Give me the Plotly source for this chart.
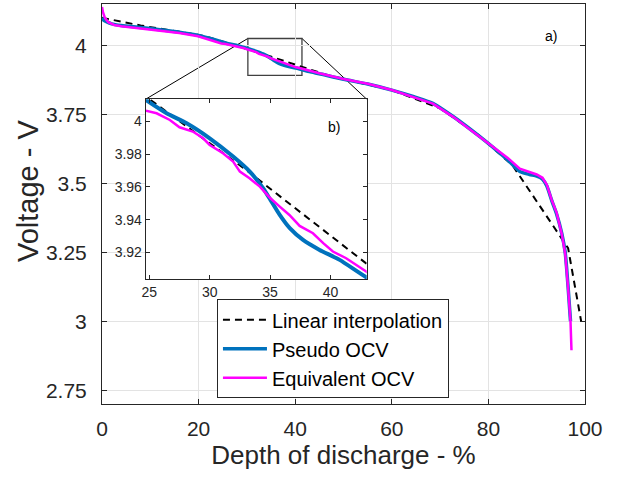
import plotly.graph_objects as go

# ---------------- data ----------------
lin_dod = [0, 8, 20, 22, 33, 47, 60, 70, 78, 85, 96.5, 99.2]
lin_v = [4.100, 4.072, 4.038, 4.030, 3.9705, 3.890, 3.838, 3.772, 3.674, 3.565, 3.265, 3.000]

pseudo_dod = [0, 0.3, 1, 2, 4, 8, 12, 16, 20, 22, 24.7, 26.43, 28.09, 30.0, 31.94, 33.32,
              34.42, 35.03, 35.8, 36.63, 37.73, 39.1, 40.76, 42.96, 45, 50, 55, 60, 64.4,
              68.5, 72.7, 78.3, 82, 84, 86.5, 88.5, 90.0, 91.2, 92.1, 93.1, 94.1, 95.2, 95.9,
              96.5, 97.0]
pseudo_v = [4.100, 4.092, 4.085, 4.078, 4.072, 4.065, 4.057, 4.048, 4.036, 4.027, 4.0133,
            4.0051, 3.9990, 3.9898, 3.9786, 3.9694, 3.9592, 3.9521, 3.9429, 3.9348, 3.9276,
            3.9215, 3.9154, 3.9048, 3.897, 3.877, 3.860, 3.838, 3.815, 3.790, 3.742, 3.668,
            3.615, 3.585, 3.543, 3.532, 3.526, 3.515, 3.490, 3.438, 3.390, 3.318, 3.249,
            3.124, 3.000]

equiv_dod = [0, 0.2, 0.6, 1.3, 2.5, 4, 8, 12.4, 16, 19.9, 22.5, 24.7, 25.6, 26.7, 27.5,
             28.6, 29.46, 30.0, 31.1, 31.94, 32.5, 33.3, 34.15, 35.03, 35.8, 36.6, 37.45,
             38.55, 39.4, 40.2, 41.3, 42.1, 42.96, 45, 50, 55, 60, 64.4, 68.5, 72.7, 78.3,
             82, 84, 86.5, 88.5, 90.0, 91.2, 92.1, 93.1, 94.1, 95.2, 95.9, 96.5, 97.0, 97.2]
equiv_v = [4.139, 4.120, 4.100, 4.084, 4.074, 4.069, 4.061, 4.053, 4.045, 4.033, 4.019,
           4.0067, 4.0051, 4.0010, 3.9965, 3.9939, 3.9898, 3.9857, 3.9806, 3.9755, 3.9694,
           3.9653, 3.9602, 3.9531, 3.9480, 3.9429, 3.9362, 3.9317, 3.9256, 3.9205, 3.9164,
           3.9123, 3.9083, 3.899, 3.878, 3.861, 3.838, 3.814, 3.789, 3.741, 3.668, 3.618,
           3.592, 3.553, 3.540, 3.532, 3.520, 3.495, 3.440, 3.395, 3.315, 3.245, 3.120,
           3.000, 2.895]

x_ticks = [0, 20, 40, 60, 80, 100]
y_ticks = [2.75, 3.0, 3.25, 3.5, 3.75, 4.0]
y_ticktext = ["2.75", "3", "3.25", "3.5", "3.75", "4"]
inset_x_ticks = [25, 30, 35, 40]
inset_y_ticks = [3.92, 3.94, 3.96, 3.98, 4.0]
inset_y_ticktext = ["3.92", "3.94", "3.96", "3.98", "4"]

# ranges / zoom box
X_RANGE = [0, 100]
Y_RANGE = [2.70, 4.15]
INSET_X_RANGE = [24.7, 43.0]
INSET_Y_RANGE = [3.9037, 4.0137]
ZOOM_BOX = dict(x0=30.2, x1=41.4, y0=3.891, y1=4.025)
INSET_DOMAIN_X = [0.0905, 0.548]
INSET_DOMAIN_Y = [0.3125, 0.762]

FONT = "Liberation Sans, Arial, sans-serif"
AXC = "#262626"
BLUE = "#0072BD"
MAG = "#FF00FF"

fig = go.Figure()

for xa, ya, show in [("x", "y", True), ("x2", "y2", False)]:
    fig.add_trace(go.Scatter(x=lin_dod, y=lin_v, mode="lines", name="Linear interpolation",
                             line=dict(color="black", width=2, dash="7px,5px"),
                             xaxis=xa, yaxis=ya, showlegend=show))
    fig.add_trace(go.Scatter(x=pseudo_dod, y=pseudo_v, mode="lines", name="Pseudo OCV",
                             line=dict(color=BLUE, width=3.5 if xa == "x" else 4,
                                       shape="spline", smoothing=0.6),
                             xaxis=xa, yaxis=ya, showlegend=show))
    fig.add_trace(go.Scatter(x=equiv_dod, y=equiv_v, mode="lines", name="Equivalent OCV",
                             line=dict(color=MAG, width=2.5),
                             xaxis=xa, yaxis=ya, showlegend=show))

axis_common = dict(showline=True, linecolor=AXC, linewidth=1, mirror="ticks",
                   ticks="inside", tickcolor=AXC, zeroline=False, automargin=False)

fig.update_layout(
    width=622, height=480,
    margin=dict(l=102, r=37, t=4, b=76),
    paper_bgcolor="white", plot_bgcolor="white",
    font=dict(family=FONT, color=AXC),
    xaxis=dict(range=X_RANGE, tickvals=x_ticks, ticklen=5, showgrid=True,
               gridcolor="#e3e3e3", tickfont=dict(size=21), ticklabelstandoff=6,
               title=dict(text="Depth of discharge - %", font=dict(size=26), standoff=2),
               **axis_common),
    yaxis=dict(range=Y_RANGE, tickvals=y_ticks, ticktext=y_ticktext, ticklen=5,
               showgrid=True, gridcolor="#e3e3e3", tickfont=dict(size=21),
               ticklabelstandoff=10, **axis_common),
    xaxis2=dict(domain=INSET_DOMAIN_X, anchor="y2", range=INSET_X_RANGE,
                tickvals=inset_x_ticks, ticklen=4, showgrid=False,
                tickfont=dict(size=14), **axis_common),
    yaxis2=dict(domain=INSET_DOMAIN_Y, anchor="x2", range=INSET_Y_RANGE,
                tickvals=inset_y_ticks, ticktext=inset_y_ticktext, ticklen=4,
                showgrid=False, tickfont=dict(size=14), **axis_common),
    legend=dict(x=0.238, y=0.262, xanchor="left", yanchor="top",
                bgcolor="white", bordercolor=AXC, borderwidth=1,
                font=dict(size=20, color="black"), itemwidth=44,
                tracegroupgap=0),
    showlegend=True,
)

# y axis title as rotated text
fig.add_annotation(text="Voltage - V", xref="paper", yref="paper",
                   x=-0.153, y=0.5325, xanchor="center", yanchor="middle",
                   textangle=-90, showarrow=False, font=dict(size=29, color=AXC))

# zoom rectangle
fig.add_shape(type="rect", xref="x", yref="y", layer="below",
              line=dict(color="#404040", width=1.3), **ZOOM_BOX)


def to_paper_x(v):
    return (v - X_RANGE[0]) / (X_RANGE[1] - X_RANGE[0])


def to_paper_y(v):
    return (v - Y_RANGE[0]) / (Y_RANGE[1] - Y_RANGE[0])


fig.add_shape(type="line", xref="paper", yref="paper", layer="below",
              x0=to_paper_x(ZOOM_BOX["x0"]), y0=to_paper_y(ZOOM_BOX["y1"]),
              x1=INSET_DOMAIN_X[0], y1=INSET_DOMAIN_Y[1],
              line=dict(color="black", width=1))
fig.add_shape(type="line", xref="paper", yref="paper", layer="below",
              x0=to_paper_x(ZOOM_BOX["x1"]), y0=to_paper_y(ZOOM_BOX["y1"]),
              x1=INSET_DOMAIN_X[1], y1=INSET_DOMAIN_Y[1],
              line=dict(color="black", width=1))

fig.add_annotation(text="a)", xref="paper", yref="paper", x=0.947, y=0.945,
                   showarrow=False, font=dict(size=14, color="black"))
fig.add_annotation(text="b)", xref="x2 domain", yref="y2 domain", x=0.89, y=0.90,
                   showarrow=False, font=dict(size=14, color="black"))

fig.write_html("out.html", config={"displayModeBar": False},
               post_script="document.body.style.margin='0';")
